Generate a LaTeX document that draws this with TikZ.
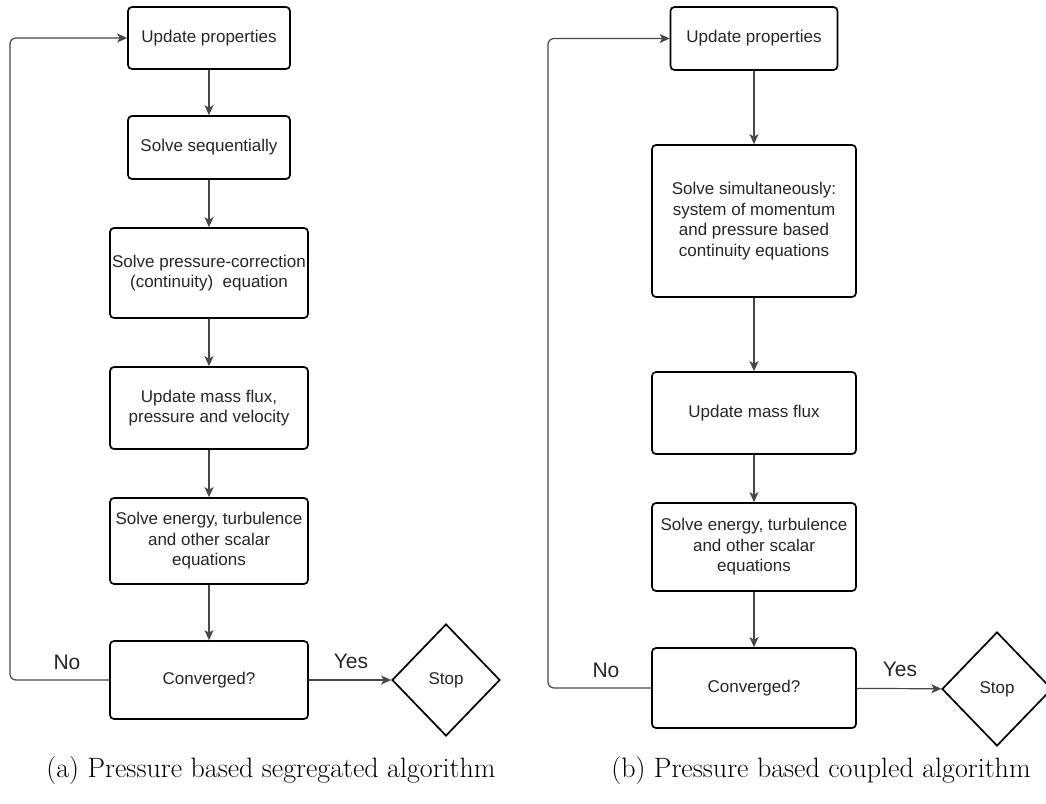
\documentclass[tikz,border=0pt]{standalone}
\usepackage{fontspec}
\newfontfamily\arialf{Liberation Sans}
\usetikzlibrary{shapes.geometric,arrows.meta}
\begin{document}
\begin{tikzpicture}[x=1pt,y=-1pt,
  box/.style={draw=black, line width=1.7pt, rounded corners=4pt, fill=white, align=center,
    inner sep=2pt, font=\arialf\fontsize{17}{20.5}\selectfont, text=black!85},
  stopd/.style={draw=black, line width=1.7pt, shape=diamond, inner sep=0pt, fill=white,
    font=\arialf\fontsize{17}{20.5}\selectfont, text=black!85},
  conn/.style={draw=black!72, line width=1.2pt, -{Stealth[length=10pt,width=9pt,inset=2.5pt]}},
  loopl/.style={conn, rounded corners=6pt},
  lbl/.style={font=\arialf\fontsize{21}{24}\selectfont, text=black!85},
  captxt/.style={font=\fontsize{28}{32}\selectfont, text=black}]
\useasboundingbox (0,0) rectangle (1046,803);

% ---------- left: segregated ----------
\node[box, minimum width=162pt, minimum height=62pt] (a1) at (209,38) {Update properties};
\node[box, minimum width=162pt, minimum height=63pt] (a2) at (209,147.5) {Solve sequentially};
\node[box, minimum width=198pt, minimum height=90pt] (a3) at (209,273) {Solve pressure-correction\\(continuity)\ \ equation};
\node[box, minimum width=198pt, minimum height=82pt] (a4) at (209,408) {Update mass flux,\\pressure and velocity};
\node[box, minimum width=198pt, minimum height=86pt] (a5) at (209,541) {Solve energy, turbulence\\and other scalar\\equations};
\node[box, minimum width=198pt, minimum height=78pt] (a6) at (209,680) {Converged?};
\node[stopd, minimum width=108pt, minimum height=112pt] (sa) at (446,680) {Stop};
\coordinate (la) at (10,0);

\draw[conn] (a1) -- (a2);
\draw[conn] (a2) -- (a3);
\draw[conn] (a3) -- (a4);
\draw[conn] (a4) -- (a5);
\draw[conn] (a5) -- (a6);
\draw[conn] (a6) -- (sa);
\draw[loopl] (a6.west) -- (a6.west -| la) -- (a1.west -| la) -- (a1.west);
\node[lbl] (noa) at (67,662) {No};
\node[lbl] (yesa) at (351,661) {Yes};

% ---------- right: coupled ----------
\node[box, minimum width=167pt, minimum height=63pt] (b1) at (754,38.5) {Update properties};
\node[box, minimum width=204pt, minimum height=152pt] (b2) at (754,221) {Solve simultaneously:\\system of momentum\\and pressure based\\continuity equations};
\node[box, minimum width=204pt, minimum height=82pt] (b3) at (754,413) {Update mass flux};
\node[box, minimum width=204pt, minimum height=88pt] (b4) at (754,547) {Solve energy, turbulence\\and other scalar\\equations};
\node[box, minimum width=204pt, minimum height=80pt] (b5) at (754,688) {Converged?};
\node[stopd, minimum width=110pt, minimum height=114pt] (sb) at (997,689) {Stop};
\coordinate (lb) at (548,0);

\draw[conn] (b1) -- (b2);
\draw[conn] (b2) -- (b3);
\draw[conn] (b3) -- (b4);
\draw[conn] (b4) -- (b5);
\draw[conn] (b5) -- (sb);
\draw[loopl] (b5.west) -- (b5.west -| lb) -- (b1.west -| lb) -- (b1.west);
\node[lbl] (nob) at (606,670) {No};
\node[lbl] (yesb) at (900,669) {Yes};

% ---------- captions ----------
\node[captxt] (capa) at (271,771) {(a) Pressure based segregated algorithm};
\node[captxt] (capb) at (821,771) {(b) Pressure based coupled algorithm};
\end{tikzpicture}
\end{document}
